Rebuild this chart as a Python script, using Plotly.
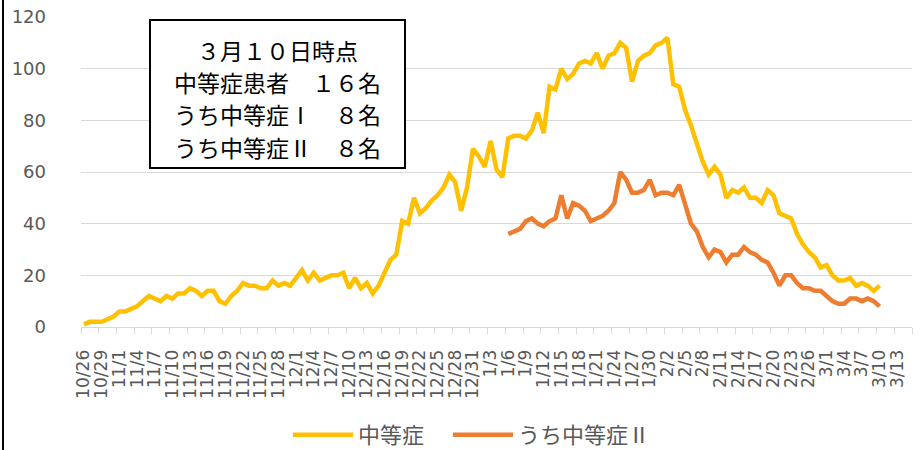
import pandas as pd
import plotly.graph_objects as go

# ---- data ----
dates = pd.date_range("2020-10-26", "2021-03-10", freq="D")

moderate = [1, 2, 2, 2, 3, 4, 6, 6, 7, 8,
            10, 12, 11, 10, 12, 11, 13, 13, 15, 14,
            12, 14, 14, 10, 9, 12, 14, 17, 16, 16,
            15, 15, 18, 16, 17, 16, 19, 22, 18, 21,
            18, 19, 20, 20, 21, 15, 19, 15, 17, 13,
            16, 21, 26, 28, 41, 40, 50, 44, 46, 49,
            51, 54, 59, 56, 45, 54, 69, 66, 62, 72,
            61, 58, 73, 74, 74, 73, 76, 83, 75, 93,
            92, 100, 96, 98, 102, 103, 102, 106, 100, 105,
            106, 110, 108, 95, 103, 105, 106, 109, 110, 112,
            94, 93, 84, 78, 71, 64, 59, 62, 59, 50,
            53, 52, 54, 50, 50, 48, 53, 51, 44, 43,
            42, 36, 32, 29, 27, 23, 24, 20, 18, 18,
            19, 16, 17, 16, 14, 16]

moderate2 = [None] * 72 + [
            36, 37, 38, 41, 42, 40, 39, 41, 42, 51,
            42, 48, 47, 45, 41, 42, 43, 45, 48, 60,
            57, 52, 52, 53, 57, 51, 52, 52, 51, 55,
            47, 40, 37, 31, 27, 30, 29, 25, 28, 28,
            31, 29, 28, 26, 25, 21, 16, 20, 20, 17,
            15, 15, 14, 14, 12, 10, 9, 9, 11, 11,
            10, 11, 10, 8]

tick_dates = pd.date_range("2020-10-26", "2021-03-13", freq="3D")
tick_labels = [f"{d.month}/{d.day}" for d in tick_dates]
y_ticks = [0, 20, 40, 60, 80, 100, 120]

series_names = ["中等症", "うち中等症Ⅱ"]
box_lines = ["３月１０日時点", "中等症患者　１６名", "うち中等症Ⅰ　８名", "うち中等症Ⅱ　８名"]

# ---- layout helpers (pixel -> paper) ----
L, R, T, B = 81, 10, 17, 123
W, H = 922, 450
PW, PH = W - L - R, H - T - B
def xp(px): return (px - L) / PW
def yp(py): return (H - B - py) / PH

GRAY = "#595959"
GRID = "#D9D9D9"

fig = go.Figure()
fig.add_trace(go.Scatter(x=dates, y=moderate, mode="lines", name=series_names[0],
                         line=dict(color="#FFC000", width=4.5), legend="legend"))
fig.add_trace(go.Scatter(x=dates, y=moderate2, mode="lines", name=series_names[1],
                         line=dict(color="#ED7D31", width=4.5), legend="legend2"))

half = pd.Timedelta(hours=12)
minor_ticks = [d - half for d in tick_dates] + [tick_dates[-1] + pd.Timedelta(days=3) - half]

fig.update_xaxes(
    type="date",
    range=[pd.Timestamp("2020-10-26") - half, pd.Timestamp("2021-03-15") + half],
    tickmode="array", tickvals=list(tick_dates), ticktext=tick_labels,
    tickangle=-90, ticks="", showgrid=False,
    showline=True, linecolor=GRID, linewidth=1,
    tickfont=dict(family="DejaVu Sans", size=17, color=GRAY),
    ticklabelstandoff=15,
    minor=dict(tickmode="array", tickvals=minor_ticks, ticks="outside",
               ticklen=6, tickcolor=GRID, tickwidth=1, showgrid=False),
)
fig.update_yaxes(
    range=[0, 120], tickmode="array", tickvals=y_ticks,
    showgrid=True, gridcolor=GRID, gridwidth=1, zeroline=False,
    tickfont=dict(family="DejaVu Sans", size=18, color=GRAY),
    ticklabelstandoff=34,
)

shapes = [
    dict(type="rect", xref="paper", yref="paper",
         x0=xp(150), x1=xp(405), y0=yp(168), y1=yp(20),
         line=dict(color="black", width=2), fillcolor="white", layer="above"),
    dict(type="line", xref="paper", yref="paper",
         x0=xp(3), x1=xp(3), y0=yp(0), y1=yp(450),
         line=dict(color="black", width=2)),
]

annos = [dict(xref="paper", yref="paper", x=xp(277), y=yp(50), text=box_lines[0],
              showarrow=False, xanchor="center", yanchor="middle",
              font=dict(family="Noto Sans CJK JP", size=23, color="black"))]
for txt, py in zip(box_lines[1:], [82, 114, 147]):
    annos.append(dict(xref="paper", yref="paper", x=xp(172), y=yp(py), text=txt,
                      showarrow=False, xanchor="left", yanchor="middle",
                      font=dict(family="Noto Sans CJK JP", size=23, color="black")))

legend_style = dict(orientation="h", xanchor="left", yanchor="middle", y=yp(435),
                    font=dict(family="Noto Sans CJK JP", size=22, color=GRAY),
                    itemwidth=60, bgcolor="rgba(0,0,0,0)")

fig.update_layout(
    width=W, height=H,
    margin=dict(l=L, r=R, t=T, b=B, autoexpand=False),
    plot_bgcolor="white", paper_bgcolor="white",
    shapes=shapes, annotations=annos,
    showlegend=True,
    legend=dict(x=xp(288), **legend_style),
    legend2=dict(x=xp(448), **legend_style),
)

fig.write_html("out.html", config={"displayModeBar": False},
               post_script="document.body.style.margin='0';document.body.style.overflow='hidden';")
